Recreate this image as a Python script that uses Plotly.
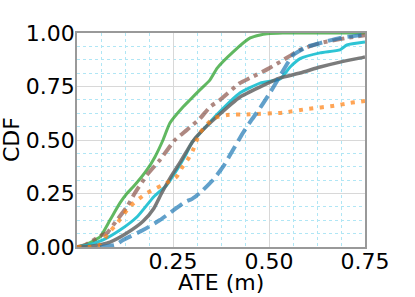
import plotly.graph_objects as go

# ---- data ----
green_x = [0, 0.021, 0.06, 0.086, 0.112, 0.13, 0.146, 0.182, 0.203, 0.224, 0.242, 0.276, 0.294, 0.320, 0.346, 0.365, 0.406, 0.451, 0.477, 0.495, 0.536, 0.75]
green_y = [0, 0.01, 0.047, 0.126, 0.206, 0.25, 0.280, 0.360, 0.421, 0.5, 0.579, 0.654, 0.687, 0.734, 0.780, 0.836, 0.911, 0.977, 0.991, 0.996, 1.0, 1.0]

brown_x = [0, 0.021, 0.065, 0.078, 0.104, 0.130, 0.15, 0.182, 0.216, 0.255, 0.286, 0.320, 0.346, 0.372, 0.424, 0.451, 0.495, 0.529, 0.581, 0.633, 0.703, 0.75]
brown_y = [0, 0.009, 0.056, 0.065, 0.126, 0.187, 0.25, 0.336, 0.407, 0.5, 0.547, 0.600, 0.654, 0.687, 0.766, 0.790, 0.830, 0.865, 0.921, 0.953, 0.977, 0.99]

cyan_x = [0, 0.03, 0.068, 0.112, 0.156, 0.2, 0.234, 0.26, 0.28, 0.30, 0.328, 0.365, 0.424, 0.477, 0.529, 0.555, 0.581, 0.633, 0.685, 0.703, 0.75]
cyan_y = [0, 0.01, 0.033, 0.079, 0.140, 0.235, 0.29, 0.36, 0.42, 0.49, 0.547, 0.620, 0.720, 0.766, 0.785, 0.841, 0.880, 0.907, 0.921, 0.944, 0.958]

gray_x = [0, 0.04, 0.086, 0.130, 0.172, 0.20, 0.22, 0.245, 0.27, 0.30, 0.32, 0.365, 0.424, 0.477, 0.529, 0.581, 0.633, 0.685, 0.745, 0.75]
gray_y = [0, 0.005, 0.023, 0.065, 0.12, 0.18, 0.25, 0.33, 0.40, 0.49, 0.533, 0.61, 0.70, 0.748, 0.79, 0.813, 0.841, 0.864, 0.886, 0.888]

orange_x = [0, 0.03, 0.06, 0.08, 0.104, 0.138, 0.18, 0.234, 0.26, 0.273, 0.289, 0.302, 0.312, 0.320, 0.354, 0.391, 0.45, 0.536, 0.60, 0.67, 0.711, 0.75]
orange_y = [0, 0.0, 0.01, 0.06, 0.11, 0.19, 0.25, 0.30, 0.33, 0.37, 0.41, 0.453, 0.5, 0.533, 0.600, 0.617, 0.62, 0.628, 0.645, 0.66, 0.673, 0.682]

blue_x = [0.06, 0.1, 0.12, 0.172, 0.216, 0.25, 0.281, 0.30, 0.320, 0.354, 0.380, 0.406, 0.432, 0.455, 0.477, 0.503, 0.529, 0.547, 0.563, 0.599, 0.633, 0.685, 0.745, 0.75]
blue_y = [0, 0.01, 0.033, 0.079, 0.126, 0.17, 0.21, 0.225, 0.252, 0.313, 0.374, 0.453, 0.533, 0.595, 0.650, 0.722, 0.80, 0.855, 0.897, 0.935, 0.953, 0.977, 0.991, 0.992]

x_ticks = [0.25, 0.5, 0.75]
x_ticktext = ["0.25", "0.50", "0.75"]
y_ticks = [0, 0.25, 0.5, 0.75, 1.0]
y_ticktext = ["0.00", "0.25", "0.50", "0.75", "1.00"]
x_title = "ATE (m)"
y_title = "CDF"

series = [
    (green_x, green_y, "rgba(44,160,44,0.75)", 3, "solid"),
    (brown_x, brown_y, "rgba(140,86,75,0.7)", 4, "12px,5px,4px,5px"),
    (cyan_x, cyan_y, "rgba(23,190,207,0.9)", 3, "solid"),
    (gray_x, gray_y, "rgba(100,100,100,0.85)", 3.5, "solid"),
    (orange_x, orange_y, "rgba(255,127,14,0.7)", 4, "4px,6.5px"),
    (blue_x, blue_y, "rgba(31,119,180,0.7)", 4, "14px,6px"),
]

fig = go.Figure()
for xs, ys, col, w, dash in series:
    fig.add_trace(go.Scatter(x=xs, y=ys, mode="lines",
                             line=dict(color=col, width=w, dash=dash,
                                       shape="spline", smoothing=0.5),
                             showlegend=False))

font = "DejaVu Sans"
fsize = 22
axis_common = dict(
    showline=True, linecolor="#999999", linewidth=1.5, mirror=True,
    showgrid=True, gridcolor="#d8d8d8", gridwidth=1,
    zeroline=False, ticks="", automargin=False,
    tickfont=dict(family=font, size=fsize, color="black"),
    minor=dict(dtick=0.0625, tick0=0, showgrid=True, gridcolor="#b0e6f5",
               griddash="dot", gridwidth=1),
)

fig.update_xaxes(range=[0, 0.75], tickvals=x_ticks, ticktext=x_ticktext,
                 ticklabelstandoff=-6, **axis_common)
fig.update_yaxes(range=[0, 1.0], tickvals=y_ticks, ticktext=y_ticktext,
                 ticklabelstandoff=-4, **axis_common)

fig.add_annotation(text=x_title, xref="paper", yref="paper", x=0.5, y=-0.164,
                   xanchor="center", yanchor="middle", showarrow=False,
                   font=dict(family=font, size=fsize, color="black"))
fig.add_annotation(text=y_title, xref="paper", yref="paper", x=-0.229, y=0.5,
                   xanchor="center", yanchor="middle", showarrow=False, textangle=-90,
                   font=dict(family=font, size=fsize, color="black"))

fig.update_layout(width=415, height=297,
                  margin=dict(l=77, r=50, t=33, b=50),
                  paper_bgcolor="white", plot_bgcolor="white")

fig.write_html("out.html",
               config={"displayModeBar": False},
               post_script="document.body.style.margin='0px';document.body.style.overflow='hidden';")
